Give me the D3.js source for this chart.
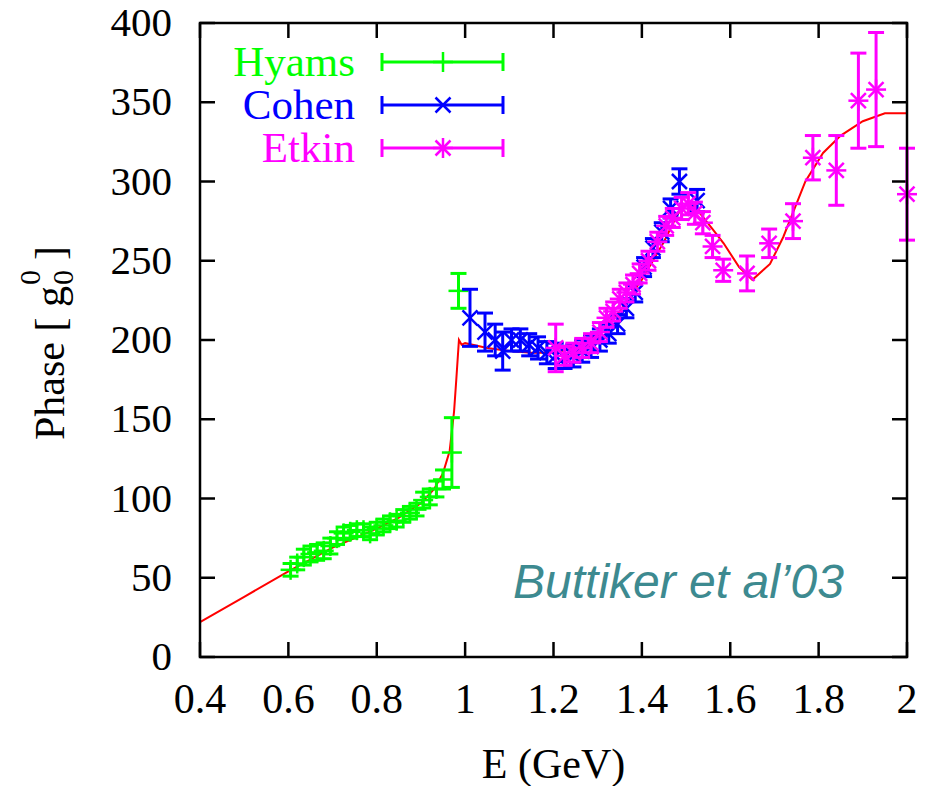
<!DOCTYPE html>
<html>
<head>
<meta charset="utf-8">
<script src="https://cdn.jsdelivr.net/npm/d3@7"></script>
<style>
  body { margin: 0; background: #fff; }
  svg { display: block; }
</style>
</head>
<body>
<div id="chart"></div>
<script>
// Phase shift vs energy, three data sets + model curve

var xTicks = [0.4, 0.6, 0.8, 1, 1.2, 1.4, 1.6, 1.8, 2];
var yTicks = [0, 50, 100, 150, 200, 250, 300, 350, 400];

var hyamsE     = [0.605, 0.62, 0.635, 0.65, 0.665, 0.68, 0.695, 0.71, 0.725, 0.74, 0.755, 0.77, 0.785, 0.80, 0.815, 0.83, 0.845, 0.86, 0.875, 0.89, 0.905, 0.92, 0.935, 0.95, 0.97, 0.985];
var hyamsPhase = [55, 59, 63, 65, 66, 67, 70, 75, 78, 79, 80, 80, 78, 81, 83, 85, 86, 89, 91, 93, 99, 101, 106, 112, 129, 231];
var hyamsErr   = [4, 4, 5, 5, 5, 5, 5, 4, 4, 4, 4, 4, 4, 4, 4, 4, 4, 4, 4, 4, 5, 5, 5, 6, 22, 11];

var cohenE     = [1.011, 1.045, 1.068, 1.085, 1.105, 1.125, 1.145, 1.165, 1.185, 1.205, 1.225, 1.245, 1.265, 1.285, 1.305, 1.325, 1.345, 1.365, 1.385, 1.405, 1.425, 1.445, 1.465, 1.485, 1.525];
var cohenPhase = [214, 205, 200, 193, 200, 200, 197, 195, 192, 190, 189, 190, 193, 196, 200, 204, 210, 220, 230, 246, 258, 268, 283, 300, 288];
var cohenErr   = [18, 12, 10, 12, 7, 7, 7, 7, 7, 8, 7, 7, 7, 7, 7, 6, 6, 6, 6, 6, 6, 6, 6, 8, 7];

var etkinE     = [1.205, 1.225, 1.245, 1.265, 1.285, 1.305, 1.32, 1.335, 1.35, 1.365, 1.38, 1.395, 1.415, 1.435, 1.455, 1.47, 1.49, 1.505, 1.52, 1.538, 1.56, 1.584, 1.638, 1.688, 1.742, 1.787, 1.84, 1.89, 1.93, 2.0];
var etkinPhase = [195, 190, 192, 195, 198, 205, 214, 218, 226, 230, 235, 242, 250, 262, 272, 277, 283, 286, 280, 274, 259, 244, 242, 261, 275, 315, 307, 351, 358, 292];
var etkinErr   = [15, 6, 6, 6, 6, 6, 6, 6, 6, 6, 6, 6, 6, 6, 6, 6, 7, 7, 7, 7, 7, 7, 11, 9, 11, 14, 22, 30, 36, 29];

var modelE     = [0.4, 0.5, 0.6, 0.7, 0.8, 0.85, 0.9, 0.93, 0.95, 0.965, 0.975, 0.98, 0.986, 0.992, 1.0, 1.05, 1.1, 1.15, 1.2, 1.25, 1.3, 1.35, 1.4, 1.45, 1.48, 1.5, 1.52, 1.56, 1.585, 1.62, 1.65, 1.69, 1.72, 1.77, 1.81, 1.85, 1.9, 1.95, 2.0];
var modelPhase = [22, 38, 54, 69, 81, 88, 97, 106, 116, 130, 155, 175, 200, 197, 198, 195, 193, 192, 192, 195, 204, 218, 238, 262, 279, 286, 284, 270, 261, 246, 238, 248, 265, 300, 318, 329, 338, 343, 343];

var series = [
  { name: "Hyams", color: "#00ff00", marker: "plus",  e: hyamsE, p: hyamsPhase, err: hyamsErr },
  { name: "Cohen", color: "#0000ff", marker: "cross", e: cohenE, p: cohenPhase, err: cohenErr },
  { name: "Etkin", color: "#ff00ff", marker: "star",  e: etkinE, p: etkinPhase, err: etkinErr }
];

var width = 926, height = 786,
    margin = { left: 200, right: 19, top: 23, bottom: 129 };

var svg = d3.select("#chart").append("svg")
  .attr("width", width)
  .attr("height", height)
  .style("font-family", "'Liberation Serif', 'Times New Roman', serif");

var x = d3.scaleLinear().domain([0.4, 2]).range([margin.left, width - margin.right]);
var y = d3.scaleLinear().domain([0, 400]).range([height - margin.bottom, margin.top]);

var tickLen = 15, cap = 8, ms = 10;

// ticks on all four sides, pointing inward
var axes = svg.append("g").attr("stroke", "#000").attr("stroke-width", 2.5);
xTicks.forEach(function(t) {
  axes.append("line").attr("x1", x(t)).attr("x2", x(t)).attr("y1", y(0)).attr("y2", y(0) - tickLen);
  axes.append("line").attr("x1", x(t)).attr("x2", x(t)).attr("y1", y(400)).attr("y2", y(400) + tickLen);
});
yTicks.forEach(function(t) {
  axes.append("line").attr("x1", x(0.4)).attr("x2", x(0.4) + tickLen).attr("y1", y(t)).attr("y2", y(t));
  axes.append("line").attr("x1", x(2)).attr("x2", x(2) - tickLen).attr("y1", y(t)).attr("y2", y(t));
});

svg.selectAll(".xt").data(xTicks).enter().append("text")
  .attr("x", function(d) { return x(d); })
  .attr("y", y(0) + 56)
  .attr("text-anchor", "middle")
  .attr("font-size", 42)
  .text(function(d) { return d; });

svg.selectAll(".yt").data(yTicks).enter().append("text")
  .attr("x", x(0.4) - 28)
  .attr("y", function(d) { return y(d) + 13; })
  .attr("text-anchor", "end")
  .attr("font-size", 41)
  .text(function(d) { return d; });

svg.append("text")
  .attr("x", (x(0.4) + x(2)) / 2)
  .attr("y", 778)
  .attr("text-anchor", "middle")
  .attr("font-size", 42)
  .text("E (GeV)");

// y label: Phase [ g with stacked 0s ]
var yl = svg.append("g").attr("transform", "translate(64,440) rotate(-90)");
var main = yl.append("text").attr("font-size", 42).text("Phase [ g");
var w = main.node().getComputedTextLength();
yl.append("text").attr("x", w + 1).attr("y", 9).attr("font-size", 30).text("0");
yl.append("text").attr("x", w + 1).attr("y", -24).attr("font-size", 30).text("0");
yl.append("text").attr("x", w + 26).attr("font-size", 42).text("]");

// model curve
var line = d3.line()
  .x(function(d) { return x(d[0]); })
  .y(function(d) { return y(d[1]); });

svg.append("path")
  .datum(d3.zip(modelE, modelPhase))
  .attr("fill", "none")
  .attr("stroke", "#ff0000")
  .attr("stroke-width", 2)
  .attr("d", line);

function drawMarker(g, type, cx, cy, color) {
  var segs = [];
  if (type === "plus" || type === "star") segs.push([-ms, 0, ms, 0], [0, -ms, 0, ms]);
  if (type === "cross" || type === "star") segs.push([-ms * 0.75, -ms * 0.75, ms * 0.75, ms * 0.75], [-ms * 0.75, ms * 0.75, ms * 0.75, -ms * 0.75]);
  segs.forEach(function(s) {
    g.append("line")
      .attr("x1", cx + s[0]).attr("y1", cy + s[1])
      .attr("x2", cx + s[2]).attr("y2", cy + s[3])
      .attr("stroke", color).attr("stroke-width", 2.5);
  });
}

series.forEach(function(s) {
  var g = svg.append("g");
  s.e.forEach(function(e, i) {
    var cx = x(e), lo = y(s.p[i] - s.err[i]), hi = y(s.p[i] + s.err[i]);
    g.append("line").attr("x1", cx).attr("x2", cx).attr("y1", lo).attr("y2", hi)
      .attr("stroke", s.color).attr("stroke-width", 3);
    [lo, hi].forEach(function(yy) {
      g.append("line").attr("x1", cx - cap).attr("x2", cx + cap).attr("y1", yy).attr("y2", yy)
        .attr("stroke", s.color).attr("stroke-width", 3);
    });
    drawMarker(g, s.marker, cx, y(s.p[i]), s.color);
  });
});

// legend
var legY = [62, 105, 148];
series.forEach(function(s, i) {
  var ly = legY[i];
  svg.append("text")
    .attr("x", 355).attr("y", ly + 14)
    .attr("text-anchor", "end")
    .attr("font-size", 43)
    .attr("fill", s.color)
    .text(s.name);
  var g = svg.append("g").attr("stroke", s.color).attr("stroke-width", 3);
  g.append("line").attr("x1", 382).attr("x2", 503).attr("y1", ly).attr("y2", ly);
  g.append("line").attr("x1", 382).attr("x2", 382).attr("y1", ly - 9).attr("y2", ly + 9);
  g.append("line").attr("x1", 503).attr("x2", 503).attr("y1", ly - 9).attr("y2", ly + 9);
  drawMarker(svg, s.marker, 443, ly, s.color);
});

// frame
svg.append("rect")
  .attr("x", x(0.4)).attr("y", y(400))
  .attr("width", x(2) - x(0.4)).attr("height", y(0) - y(400))
  .attr("fill", "none").attr("stroke", "#000").attr("stroke-width", 2.5);

svg.append("text")
  .attr("x", 513).attr("y", 598)
  .style("font-family", "'Liberation Sans', Arial, sans-serif")
  .attr("font-style", "italic")
  .attr("font-size", 48)
  .attr("fill", "#3d8a90")
  .text("Buttiker et al\u201903");
</script>
</body>
</html>
